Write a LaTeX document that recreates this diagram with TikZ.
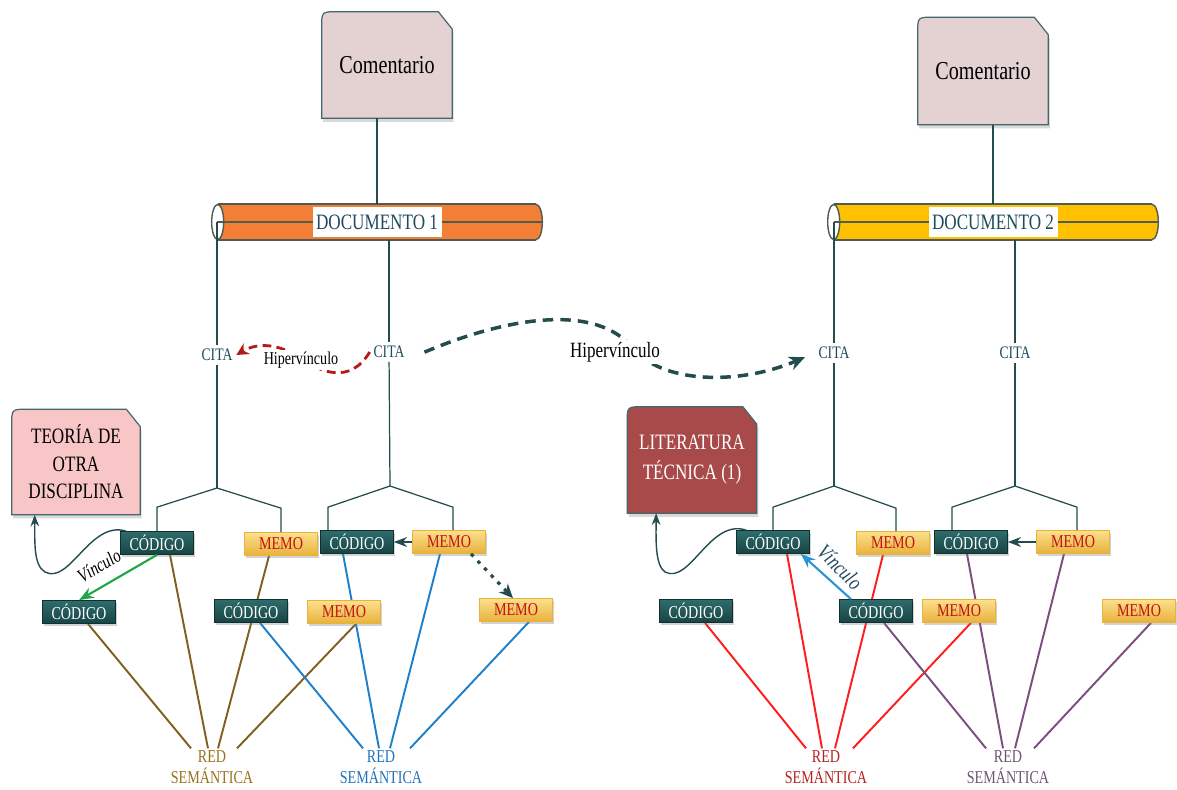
\documentclass[tikz,border=0pt]{standalone}
\usepackage{fontspec}
\setmainfont{Liberation Serif}[FakeStretch=0.78]
\usetikzlibrary{arrows.meta,calc,shadows,backgrounds}

\definecolor{slate}{HTML}{244C4E}
\definecolor{codtop}{HTML}{2E6C6C}
\definecolor{codbot}{HTML}{174444}
\definecolor{memtop}{HTML}{FBE08C}
\definecolor{membot}{HTML}{E8B23C}
\definecolor{memtxt}{HTML}{C41010}
\definecolor{citatxt}{HTML}{1F4A5E}
\definecolor{brownln}{HTML}{7F6020}
\definecolor{browntxt}{HTML}{98701E}
\definecolor{blueln}{HTML}{1F80CA}
\definecolor{bluetxt}{HTML}{2272B8}
\definecolor{redln}{HTML}{FF1C1C}
\definecolor{redtxt}{HTML}{B82020}
\definecolor{purpln}{HTML}{7A4E7E}
\definecolor{purptxt}{HTML}{6E5474}
\definecolor{greenln}{HTML}{1EA544}
\definecolor{vinblue}{HTML}{2A95D5}
\definecolor{hipred}{HTML}{B41A1A}
\definecolor{comfill}{HTML}{E4D2D3}
\definecolor{teofill}{HTML}{F8C6C6}
\definecolor{litfill}{HTML}{A84A4A}
\definecolor{doconefill}{HTML}{F27F35}
\definecolor{doctwofill}{HTML}{FFC000}
\definecolor{tubeedge}{HTML}{4E5C52}

% card outline (rounded top left, cut top right) behind a node
\newcommand\cardshape[2]{%
  \begin{scope}[on background layer]
    \filldraw[fill=#2, draw=slate!85, line width=0.7pt,
      drop shadow={shadow xshift=0.8pt, shadow yshift=-2pt, opacity=0.3}]
      (#1.south west) -- ([yshift=-9pt]#1.north west) .. controls (#1.north west) .. ([xshift=9pt]#1.north west)
      -- ([xshift=-8pt]#1.north east) -- ([yshift=-10pt]#1.north east) -- (#1.south east) -- cycle;
  \end{scope}}

% lying tube, open end on the left
\newcommand\tubeshape[2]{%
  \filldraw[fill=#2, draw=tubeedge, line width=0.8pt] ([xshift=-0.12cm]#1.east) ellipse [x radius=0.12cm, y radius=0.35cm];
  \fill[#2] ([xshift=0.12cm]#1.north west) rectangle ([xshift=-0.12cm]#1.south east);
  \draw[tubeedge, line width=0.8pt] ([xshift=0.12cm]#1.north west) -- ([xshift=-0.12cm]#1.north east)
    ([xshift=0.12cm]#1.south west) -- ([xshift=-0.12cm]#1.south east);
  \filldraw[fill=white, draw=tubeedge, line width=0.8pt] ([xshift=0.12cm]#1.west) ellipse [x radius=0.12cm, y radius=0.35cm];}

\begin{document}
\begin{tikzpicture}[
    x=0.02cm, y=-0.02cm,
    codebox/.style={draw=codbot!70!black, top color=codtop, bottom color=codbot, text=white,
      font=\fontsize{10.3}{12}\selectfont, minimum width=1.46cm, minimum height=0.46cm, inner sep=0pt,
      drop shadow={shadow xshift=0.6pt, shadow yshift=-1.6pt, opacity=0.35}},
    memobox/.style={draw=membot, top color=memtop, bottom color=membot, text=memtxt,
      font=\fontsize{10.3}{12}\selectfont, minimum width=1.46cm, minimum height=0.46cm, inner sep=0pt,
      drop shadow={shadow xshift=0.6pt, shadow yshift=-1.6pt, opacity=0.35}},
    card/.style={align=center, inner sep=2pt, minimum width=2.6cm, minimum height=2.12cm},
    tube/.style={minimum width=6.6cm, minimum height=0.7cm, inner sep=0pt},
    doclbl/.style={fill=white, text=citatxt, font=\fontsize{12.5}{13}\selectfont, inner sep=2pt, minimum height=0.6cm},
    cita/.style={text=citatxt, font=\fontsize{10}{11}\selectfont, inner sep=2pt},
    redlbl/.style={align=center, font=\fontsize{10.3}{12}\selectfont, inner sep=1pt},
    link/.style={slate, line width=0.7pt},
    net/.style={line width=1.1pt},
    hiplbl/.style={fill=white, inner sep=1pt},
    >=Stealth
]
\useasboundingbox (0,0) rectangle (1177,789);

% comentarios
\node[card, font=\fontsize{14.7}{16}\selectfont] (com1) at (387,65) {Comentario};
\node[card, font=\fontsize{14.7}{16}\selectfont, minimum height=2.14cm] (com2) at (983,71) {Comentario};
\cardshape{com1}{comfill}
\cardshape{com2}{comfill}

% documentos
\node[tube] (doc1) at (377,222) {};
\node[tube] (doc2) at (993,222) {};
\tubeshape{doc1}{doconefill}
\tubeshape{doc2}{doctwofill}

% citas
\node[cita] (citaA) at (217,355) {CITA};
\node[cita] (citaB) at (389,352) {CITA};
\node[cita] (citaE) at (834,353) {CITA};
\node[cita] (citaF) at (1015,353) {CITA};

\draw[tubeedge, line width=0.8pt] (citaA |- doc1.center) -- (doc1.east);
\draw[tubeedge, line width=0.8pt] (citaE |- doc2.center) -- (doc2.east);
\node[doclbl] (doc1lbl) at (doc1.center) {DOCUMENTO 1};
\node[doclbl] (doc2lbl) at (doc2.center) {DOCUMENTO 2};

\draw[link] (com1.south -| doc1.north) -- (doc1.north);
\draw[link] (com2.south -| doc2.north) -- (doc2.north);
\draw[link] (citaA |- doc1.center) -- (citaA);
\draw[link] (citaB |- doc1.south) -- (citaB);
\draw[link] (citaE |- doc2.center) -- (citaE);
\draw[link] (citaF |- doc2.south) -- (citaF);

% otras fuentes
\node[card, minimum width=2.56cm, minimum height=2.1cm, font=\fontsize{12.5}{15.6}\selectfont] (teoria) at (76,462) {TEORÍA DE\\OTRA\\DISCIPLINA};
\node[card, minimum width=2.58cm, minimum height=2.12cm, text=white, font=\fontsize{12.5}{17}\selectfont] (lit) at (692,460) {LITERATURA\\TÉCNICA (1)};
\cardshape{teoria}{teofill}
\cardshape{lit}{litfill}

% codigos y memos, documento 1
\node[codebox] (codA) at (157,543) {CÓDIGO};
\node[memobox] (memA) at (281,544) {MEMO};
\node[codebox] (codB) at (357,542) {CÓDIGO};
\node[memobox] (memB) at (449,542) {MEMO};
\node[codebox] (codC) at (79,612) {CÓDIGO};
\node[codebox] (codD) at (251,611) {CÓDIGO};
\node[memobox] (memC) at (344,612) {MEMO};
\node[memobox] (memD) at (516,610) {MEMO};

% codigos y memos, documento 2
\node[codebox] (codE) at (773,542) {CÓDIGO};
\node[memobox] (memE) at (893,543) {MEMO};
\node[codebox] (codF) at (971,542) {CÓDIGO};
\node[memobox] (memF) at (1073,542) {MEMO};
\node[codebox] (codG) at (696,611) {CÓDIGO};
\node[codebox] (codH) at (876,611) {CÓDIGO};
\node[memobox] (memG) at (959,611) {MEMO};
\node[memobox] (memH) at (1139,611) {MEMO};

% redes semanticas
\node[redlbl, text=browntxt] (redA) at (212,767) {RED\\SEMÁNTICA};
\node[redlbl, text=bluetxt] (redB) at (381,767) {RED\\SEMÁNTICA};
\node[redlbl, text=redtxt] (redE) at (826,767) {RED\\SEMÁNTICA};
\node[redlbl, text=purptxt] (redF) at (1008,767) {RED\\SEMÁNTICA};

% horquillas
\coordinate (fkA) at (217,488);
\coordinate (fkB) at (390,486);
\coordinate (fkE) at (834,486);
\coordinate (fkF) at (1015,486);
\draw[link] (citaA) -- (fkA);
\draw[link] (citaB) -- (fkB);
\draw[link] (citaE) -- (fkE);
\draw[link] (citaF) -- (fkF);
\draw[link] (codA.north) -- ++(0,-24) -- (fkA) -- ($(memA.north)+(0,-24)$) -- (memA.north);
\draw[link] ($(codB.north)+(-29,0)$) -- ++(0,-23) -- (fkB) -- ($(memB.north)+(4,-23)$) -- ++(0,23);
\draw[link] (codE.north) -- ++(0,-23) -- (fkE) -- ($(memE.north)+(3,-23)$) -- ++(0,23);
\draw[link] ($(codF.north)+(-19,0)$) -- ++(0,-23) -- (fkF) -- ($(memF.north)+(4,-23)$) -- ++(0,23);

\begin{scope}[on background layer]
  \draw[net, brownln] ([xshift=0.18cm]codC.south) -- ([xshift=-0.42cm]redA.north);
  \draw[net, brownln] ([xshift=0.26cm]codA.south) -- ([xshift=-0.08cm]redA.north);
  \draw[net, brownln] ([xshift=-0.24cm]memA.south) -- ([xshift=0.12cm]redA.north);
  \draw[net, brownln] ([xshift=0.24cm]memC.south) -- ([xshift=0.5cm]redA.north);
  \draw[net, blueln] ([xshift=0.18cm]codD.south) -- ([xshift=-0.36cm]redB.north);
  \draw[net, blueln] ([xshift=-0.28cm]codB.south) -- ([xshift=-0.04cm]redB.north);
  \draw[net, blueln] ([xshift=-0.18cm]memB.south) -- ([xshift=0.18cm]redB.north);
  \draw[net, blueln] ([xshift=0.26cm]memD.south) -- ([xshift=0.58cm]redB.north);
  \draw[net, redln] ([xshift=0.18cm]codG.south) -- ([xshift=-0.4cm]redE.north);
  \draw[net, redln] ([xshift=0.28cm]codE.south) -- ([xshift=-0.08cm]redE.north);
  \draw[net, redln] ([xshift=-0.2cm]memE.south) -- ([xshift=0.18cm]redE.north);
  \draw[net, redln] ([xshift=0.24cm]memG.south) -- ([xshift=0.54cm]redE.north);
  \draw[net, purpln] ([xshift=0.16cm]codH.south) -- ([xshift=-0.44cm]redF.north);
  \draw[net, purpln] ([xshift=-0.08cm]codF.south) -- ([xshift=-0.1cm]redF.north);
  \draw[net, purpln] ([xshift=-0.18cm]memF.south) -- ([xshift=0.14cm]redF.north);
  \draw[net, purpln] ([xshift=0.24cm]memH.south) -- ([xshift=0.52cm]redF.north);
\end{scope}

% vinculos entre codigos y memos
\draw[->, slate, line width=1pt] (memB) -- (codB);
\draw[->, slate, line width=1pt] (memF) -- (codF);
\draw[-{Stealth[length=8pt,width=7pt]}, slate, line width=1.8pt, dash pattern=on 2pt off 3.5pt]
  ([xshift=0.44cm]memB.south) -- ([xshift=-0.06cm]memD.north);
\draw[->, greenln, line width=1.2pt] (codA.south) -- (codC.north);
\node[rotate=31, inner sep=0pt, font=\itshape\fontsize{11}{12}\selectfont] (vinA) at (99,566) {Vínculo};
\draw[->, vinblue, line width=1.2pt] ([xshift=-0.5cm]codH.north) -- ([xshift=-0.18cm]codE.south east);
\node[rotate=-45, inner sep=0pt, text=citatxt, font=\itshape\fontsize{12.5}{13}\selectfont] (vinE) at (840,567) {Vínculo};

\draw[->, slate, line width=0.8pt] ([xshift=0.12cm]codA.north west) .. controls (90,520) and (70,585) .. (45,572)
  .. controls (33,565) and (35,540) .. ([xshift=0.46cm]teoria.south west);
\draw[->, slate, line width=0.8pt] ([xshift=0.2cm]codE.north west) .. controls (710,518) and (690,585) .. (665,572)
  .. controls (655,565) and (656,540) .. ([xshift=0.58cm]lit.south west);

% hipervinculos
\draw[-{Stealth[length=7pt,width=7pt]}, hipred, line width=1.6pt, dash pattern=on 5pt off 3pt]
  (citaB.west) .. controls (350,385) and (320,372) .. (300,358) .. controls (280,344) and (258,342) .. (citaA.east);
\node[hiplbl, font=\fontsize{10.3}{11}\selectfont] (hipA) at (301,360) {Hipervínculo};
\draw[-{Stealth[length=9pt,width=8pt]}, slate, line width=2pt, dash pattern=on 6pt off 4pt, shorten <=10pt, shorten >=6pt]
  ([yshift=-4pt]citaB.east) .. controls (500,320) and (590,302) .. (630,345) .. controls (660,385) and (740,385) .. (citaE.west);
\node[hiplbl, font=\fontsize{12.4}{13}\selectfont] (hipB) at (615,352) {Hipervínculo};
\end{tikzpicture}
\end{document}
